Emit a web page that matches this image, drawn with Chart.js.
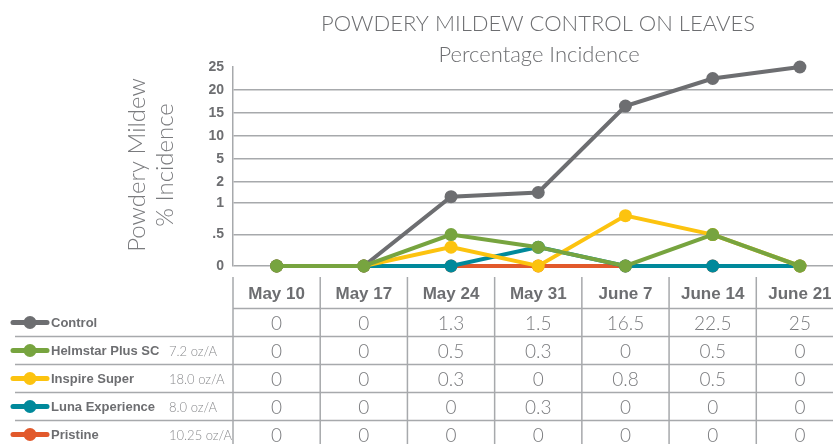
<!DOCTYPE html>
<html>
<head>
<meta charset="utf-8">
<script src="https://cdn.jsdelivr.net/npm/chart.js@4.4.1/dist/chart.umd.min.js"></script>
<style>
  html, body { margin: 0; padding: 0; background: #fff; overflow: hidden; }
  #wrap { width: 850px; height: 444px; }
</style>
</head>
<body>
<div id="wrap"><canvas id="mildew" width="850" height="444"></canvas></div>
<script>
const dates = ['May 10', 'May 17', 'May 24', 'May 31', 'June 7', 'June 14', 'June 21'];
const treatments = ['Control', 'Helmstar Plus SC', 'Inspire Super', 'Luna Experience', 'Pristine'];
const rates = ['', '7.2 oz/A', '18.0 oz/A', '8.0 oz/A', '10.25 oz/A'];
const control = [0, 0, 1.3, 1.5, 16.5, 22.5, 25];
const helmstar = [0, 0, 0.5, 0.3, 0, 0.5, 0];
const inspire = [0, 0, 0.3, 0, 0.8, 0.5, 0];
const luna = [0, 0, 0, 0.3, 0, 0, 0];
const pristine = [0, 0, 0, 0, 0, 0, 0];
const yTickValues = [0, 0.5, 1, 2, 5, 10, 15, 20, 25];
const yTickLabels = ['0', '.5', '1', '2', '5', '10', '15', '20', '25'];

const series = [control, helmstar, inspire, luna, pristine];
const colors = ['#6d6e71', '#77a43f', '#fcc30f', '#00899b', '#e2592b'];
const drawOrder = [1, 0, 2, 3, 4]; // green sits on top, orange at the bottom

// the printed axis is uneven: wide bands below 1, then equal steps up to 25
const bandSteps = [0, 31.4, 63, 84, 107, 130, 153, 176, 199];
function toAxis(v) {
  for (let i = 1; i < yTickValues.length; i++) {
    if (v <= yTickValues[i]) {
      const f = (v - yTickValues[i - 1]) / (yTickValues[i] - yTickValues[i - 1]);
      return bandSteps[i - 1] + f * (bandSteps[i] - bandSteps[i - 1]);
    }
  }
  return bandSteps[bandSteps.length - 1];
}

const GRID = '#a7a9ac';
const TEXT = '#6d6e71';
const THIN = '"Lato", "Roboto", sans-serif';
const BOLD = '"Liberation Sans", Arial, sans-serif';

const textAndTable = {
  id: 'textAndTable',
  afterDraw(chart) {
    const { ctx, scales: { x } } = chart;
    const band = x.getPixelForValue(1) - x.getPixelForValue(0);
    const left = x.getPixelForValue(0) - band / 2;
    const right = chart.width;
    const headTop = 277, headLine = 308.5, rowH = 28;

    ctx.save();
    // titles
    ctx.fillStyle = TEXT;
    ctx.textAlign = 'center';
    ctx.textBaseline = 'middle';
    ctx.font = '300 22px ' + THIN;
    ctx.fillText('POWDERY MILDEW CONTROL ON LEAVES', 538, 24);
    ctx.font = '300 22px ' + THIN;
    ctx.fillText('Percentage Incidence', 539, 55);

    // y axis title, two lines
    ctx.save();
    ctx.translate(151, 165);
    ctx.rotate(-Math.PI / 2);
    ctx.font = '300 24px ' + THIN;
    ctx.fillStyle = '#7a7b7e';
    ctx.fillText('Powdery Mildew', 0, -14);
    ctx.fillText('% Incidence', 0, 14);
    ctx.restore();

    // table rules
    ctx.strokeStyle = GRID;
    ctx.lineWidth = 1.5;
    ctx.beginPath();
    for (let i = 0; i <= dates.length; i++) {
      const cx = left + i * band;
      ctx.moveTo(cx, headTop);
      ctx.lineTo(cx, 444);
    }
    ctx.moveTo(left, headLine);
    ctx.lineTo(right, headLine);
    for (let k = 1; k < treatments.length; k++) {
      ctx.moveTo(15, headLine + k * rowH);
      ctx.lineTo(right, headLine + k * rowH);
    }
    ctx.stroke();

    // header
    ctx.fillStyle = TEXT;
    ctx.font = 'bold 17px ' + BOLD;
    dates.forEach((d, i) => ctx.fillText(d, x.getPixelForValue(i), 294));

    // rows
    series.forEach((vals, r) => {
      const cy = headLine + r * rowH + rowH / 2;
      ctx.strokeStyle = colors[r];
      ctx.lineWidth = 5;
      ctx.lineCap = 'round';
      ctx.beginPath();
      ctx.moveTo(13, cy);
      ctx.lineTo(47, cy);
      ctx.stroke();
      ctx.fillStyle = colors[r];
      ctx.beginPath();
      ctx.arc(30, cy, 6.5, 0, Math.PI * 2);
      ctx.fill();

      ctx.textAlign = 'left';
      ctx.fillStyle = TEXT;
      ctx.font = 'bold 13px ' + BOLD;
      ctx.fillText(treatments[r], 51, cy + 1);
      ctx.fillStyle = '#8a8b8e';
      ctx.font = '300 13px ' + THIN;
      ctx.fillText(rates[r], 169, cy + 1);

      ctx.textAlign = 'center';
      ctx.fillStyle = '#7a7b7e';
      ctx.font = '300 19px ' + THIN;
      vals.forEach((v, i) => ctx.fillText(String(v), x.getPixelForValue(i), cy + 1));
    });
    ctx.restore();
  }
};

new Chart(document.getElementById('mildew'), {
  type: 'line',
  data: {
    labels: dates,
    datasets: series.map((vals, i) => ({
      label: treatments[i],
      data: vals.map(toAxis),
      borderColor: colors[i],
      backgroundColor: colors[i],
      pointBackgroundColor: colors[i],
      borderWidth: 4,
      pointRadius: 6.5,
      pointBorderWidth: 0,
      tension: 0,
      order: drawOrder[i],
      clip: false
    }))
  },
  options: {
    responsive: false,
    animation: false,
    layout: { padding: { top: 67, bottom: 178, left: 0, right: 5.6 } },
    plugins: {
      legend: { display: false },
      tooltip: { enabled: false },
      title: { display: false }
    },
    scales: {
      x: { type: 'category', offset: true, display: false },
      y: {
        min: 0,
        max: 199,
        afterBuildTicks: axis => { axis.ticks = bandSteps.map(v => ({ value: v })); },
        afterFit: axis => { axis.width = 233; },
        border: { color: GRID, width: 1.5 },
        grid: {
          drawTicks: false,
          lineWidth: 1.5,
          color: c => (c.index === bandSteps.length - 1 ? 'rgba(0,0,0,0)' : GRID)
        },
        ticks: {
          padding: 9,
          color: TEXT,
          font: { family: BOLD, size: 14, weight: 'bold' },
          callback: (v, i) => yTickLabels[i]
        }
      }
    }
  },
  plugins: [textAndTable]
});
</script>
</body>
</html>
